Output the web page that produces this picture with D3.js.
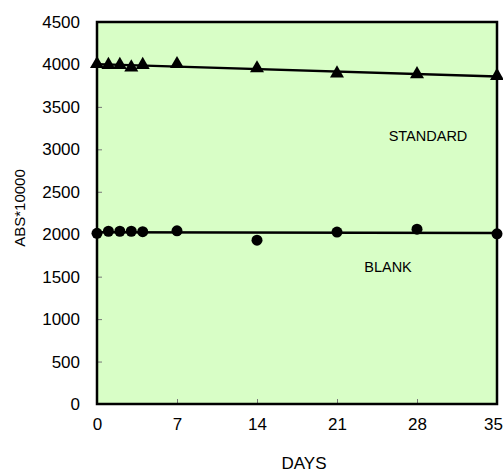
<!DOCTYPE html>
<html>
<head>
<meta charset="utf-8">
<script src="https://cdn.jsdelivr.net/npm/d3@7"></script>
<style>
  body { margin: 0; background: #fff; }
  text { font-family: "Liberation Sans", Arial, sans-serif; fill: #000; }
</style>
</head>
<body>
<svg id="chart" width="503" height="472"></svg>
<script>
const days = [0, 1, 2, 3, 4, 7, 14, 21, 28, 35];
const standard = [4005, 3995, 3995, 3965, 3995, 4005, 3955, 3895, 3885, 3865];
const blank = [2010, 2035, 2035, 2035, 2030, 2040, 1930, 2025, 2060, 2005];
const xTicks = [0, 7, 14, 21, 28, 35];
const yTicks = d3.range(0, 4501, 500);

const plotLeft = 97, plotRight = 497, plotTop = 22, plotBottom = 404;

const x = d3.scaleLinear().domain([0, 35]).range([plotLeft, plotRight]);
const y = d3.scaleLinear().domain([0, 4500]).range([plotBottom, plotTop]);

const svg = d3.select('#chart');

svg.append('rect')
  .attr('x', plotLeft).attr('y', plotTop)
  .attr('width', plotRight - plotLeft).attr('height', plotBottom - plotTop)
  .attr('fill', '#d8fec6');

// least squares trend line
function fit(xs, ys) {
  const mx = d3.mean(xs), my = d3.mean(ys);
  let num = 0, den = 0;
  xs.forEach((v, i) => { num += (v - mx) * (ys[i] - my); den += (v - mx) ** 2; });
  const b = num / den;
  return [my - b * mx, b];
}

const line = d3.line().x(d => x(d[0])).y(d => y(d[1]));

[standard, blank].forEach(series => {
  const [a, b] = fit(days, series);
  svg.append('path')
    .attr('d', line([[0, a], [35, a + 35 * b]]))
    .attr('stroke', '#000').attr('stroke-width', 2.5).attr('fill', 'none');
});

const yAxis = d3.axisLeft(y).tickValues(yTicks).tickFormat(d3.format('d'))
  .tickSize(-5).tickPadding(17);
svg.append('g').attr('transform', `translate(${plotLeft},0)`).call(yAxis)
  .call(g => g.select('.domain').remove())
  .call(g => g.selectAll('line').attr('stroke', '#777'))
  .call(g => g.selectAll('text').attr('font-size', 17).attr('font-family', 'Liberation Sans'));

const xAxis = d3.axisBottom(x).tickValues(xTicks).tickSize(-5).tickPadding(14);
svg.append('g').attr('transform', `translate(0,${plotBottom})`).call(xAxis)
  .call(g => g.select('.domain').remove())
  .call(g => g.selectAll('line').attr('stroke', '#777'))
  .call(g => g.selectAll('text').attr('font-size', 17).attr('font-family', 'Liberation Sans')
    .attr('dx', d => d === 35 ? -4 : 0));

svg.append('rect')
  .attr('x', plotLeft).attr('y', plotTop)
  .attr('width', plotRight - plotLeft).attr('height', plotBottom - plotTop)
  .attr('fill', 'none').attr('stroke', '#000').attr('stroke-width', 2.5);

const tri = d3.symbol().type(d3.symbolTriangle).size(85);
svg.append('g').selectAll('path')
  .data(days.map((d, i) => [d, standard[i]]))
  .join('path')
  .attr('transform', d => `translate(${x(d[0])},${y(d[1])})`)
  .attr('d', tri)
  .attr('fill', '#000');

svg.append('g').selectAll('circle')
  .data(days.map((d, i) => [d, blank[i]]))
  .join('circle')
  .attr('cx', d => x(d[0])).attr('cy', d => y(d[1]))
  .attr('r', 5.5).attr('fill', '#000');

svg.append('text').attr('x', 428).attr('y', 141)
  .attr('text-anchor', 'middle').attr('font-size', 14.5).text('STANDARD');
svg.append('text').attr('x', 388).attr('y', 272)
  .attr('text-anchor', 'middle').attr('font-size', 14.5).text('BLANK');

svg.append('text').attr('x', 304).attr('y', 469)
  .attr('text-anchor', 'middle').attr('font-size', 17).text('DAYS');
svg.append('text')
  .attr('transform', 'translate(25,208) rotate(-90)')
  .attr('text-anchor', 'middle').attr('font-size', 15).text('ABS*10000');
</script>
</body>
</html>
